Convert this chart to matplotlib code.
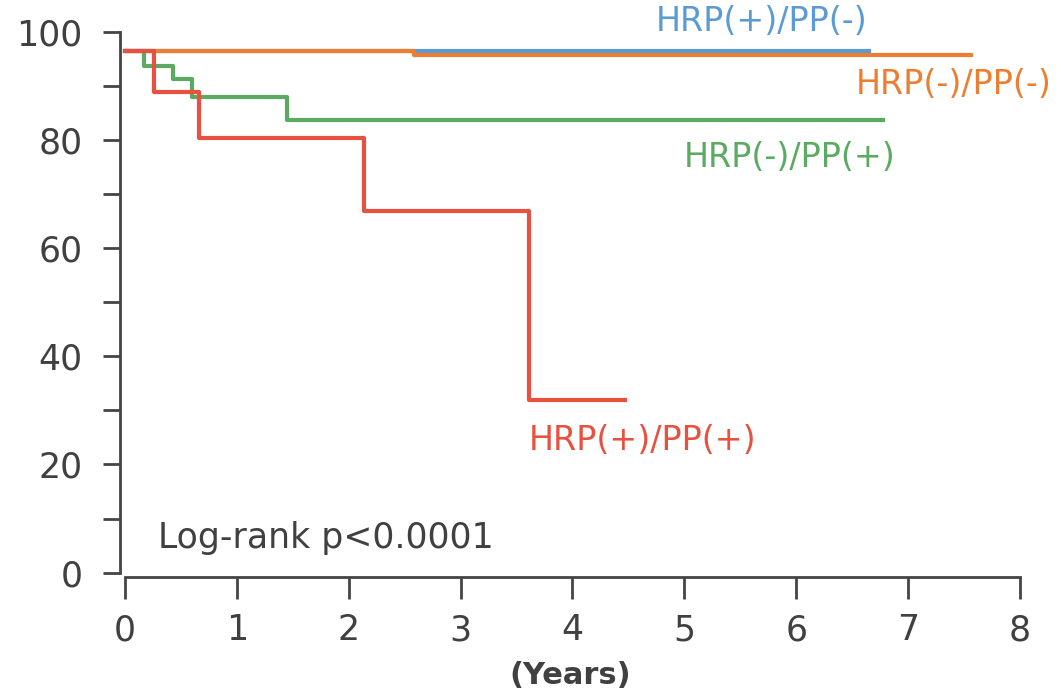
import numpy as np
import matplotlib.pyplot as plt

plt.rcParams['font.family'] = ['DejaVu Sans']

# step curves: event times (years) and survival (%)
t_blue = [0, 6.65]
s_blue = [96.4, 96.4]
t_orange = [0, 2.58, 7.56]
s_orange = [96.4, 95.7, 95.7]
t_green = [0, 0.17, 0.43, 0.60, 1.45, 6.78]
s_green = [96.4, 93.7, 91.2, 88.0, 83.7, 83.7]
t_red = [0, 0.26, 0.66, 2.14, 3.61, 4.47]
s_red = [96.4, 88.8, 80.4, 66.9, 31.9, 31.9]

names = ['HRP(+)/PP(-)', 'HRP(-)/PP(-)', 'HRP(-)/PP(+)', 'HRP(+)/PP(+)']
colors = ['#5b9bd5', '#ed7d31', '#5aab61', '#e8513f']

fig = plt.figure(figsize=(10.61, 6.99), dpi=100)
ax = fig.add_axes([0.1131, 0.1745, 0.8482, 0.7802])

ax.plot(t_blue, s_blue, drawstyle='steps-post', color=colors[0], lw=3)
ax.plot(t_orange, s_orange, drawstyle='steps-post', color=colors[1], lw=3)
ax.plot(t_green, s_green, drawstyle='steps-post', color=colors[2], lw=3)
ax.plot(t_red, s_red, drawstyle='steps-post', color=colors[3], lw=3)

ax.text(5.69, 101.8, names[0], color=colors[0], fontsize=24, ha='center', va='center')
ax.text(7.41, 90.3, names[1], color=colors[1], fontsize=24, ha='center', va='center')
ax.text(5.94, 76.8, names[2], color=colors[2], fontsize=24, ha='center', va='center')
ax.text(4.63, 24.5, names[3], color=colors[3], fontsize=24, ha='center', va='center')
ax.text(0.295, 6.4, 'Log-rank p<0.0001', color='#404040', fontsize=25, ha='left', va='center')

ax.set_xlim(-0.045, 8)
ax.set_ylim(-0.8, 100)
ax.set_xticks(range(0, 9))
ax.set_yticks(range(0, 101, 20))
ax.set_yticks(range(10, 100, 20), minor=True)
ax.spines['top'].set_visible(False)
ax.spines['right'].set_visible(False)
ax.spines['bottom'].set_bounds(0, 8)
ax.spines['left'].set_bounds(0, 100)
for sp in ['left', 'bottom']:
    ax.spines[sp].set_linewidth(2)
    ax.spines[sp].set_color('#444444')
ax.tick_params(axis='both', which='both', width=2, color='#444444', labelcolor='#404040', labelsize=25)
ax.tick_params(axis='y', which='both', length=12, pad=15)
ax.tick_params(axis='x', length=16, pad=10)
ax.set_xlabel('(Years)', fontsize=22, fontweight='bold', color='#404040', labelpad=10)

fig.savefig('out.png', dpi=100)
